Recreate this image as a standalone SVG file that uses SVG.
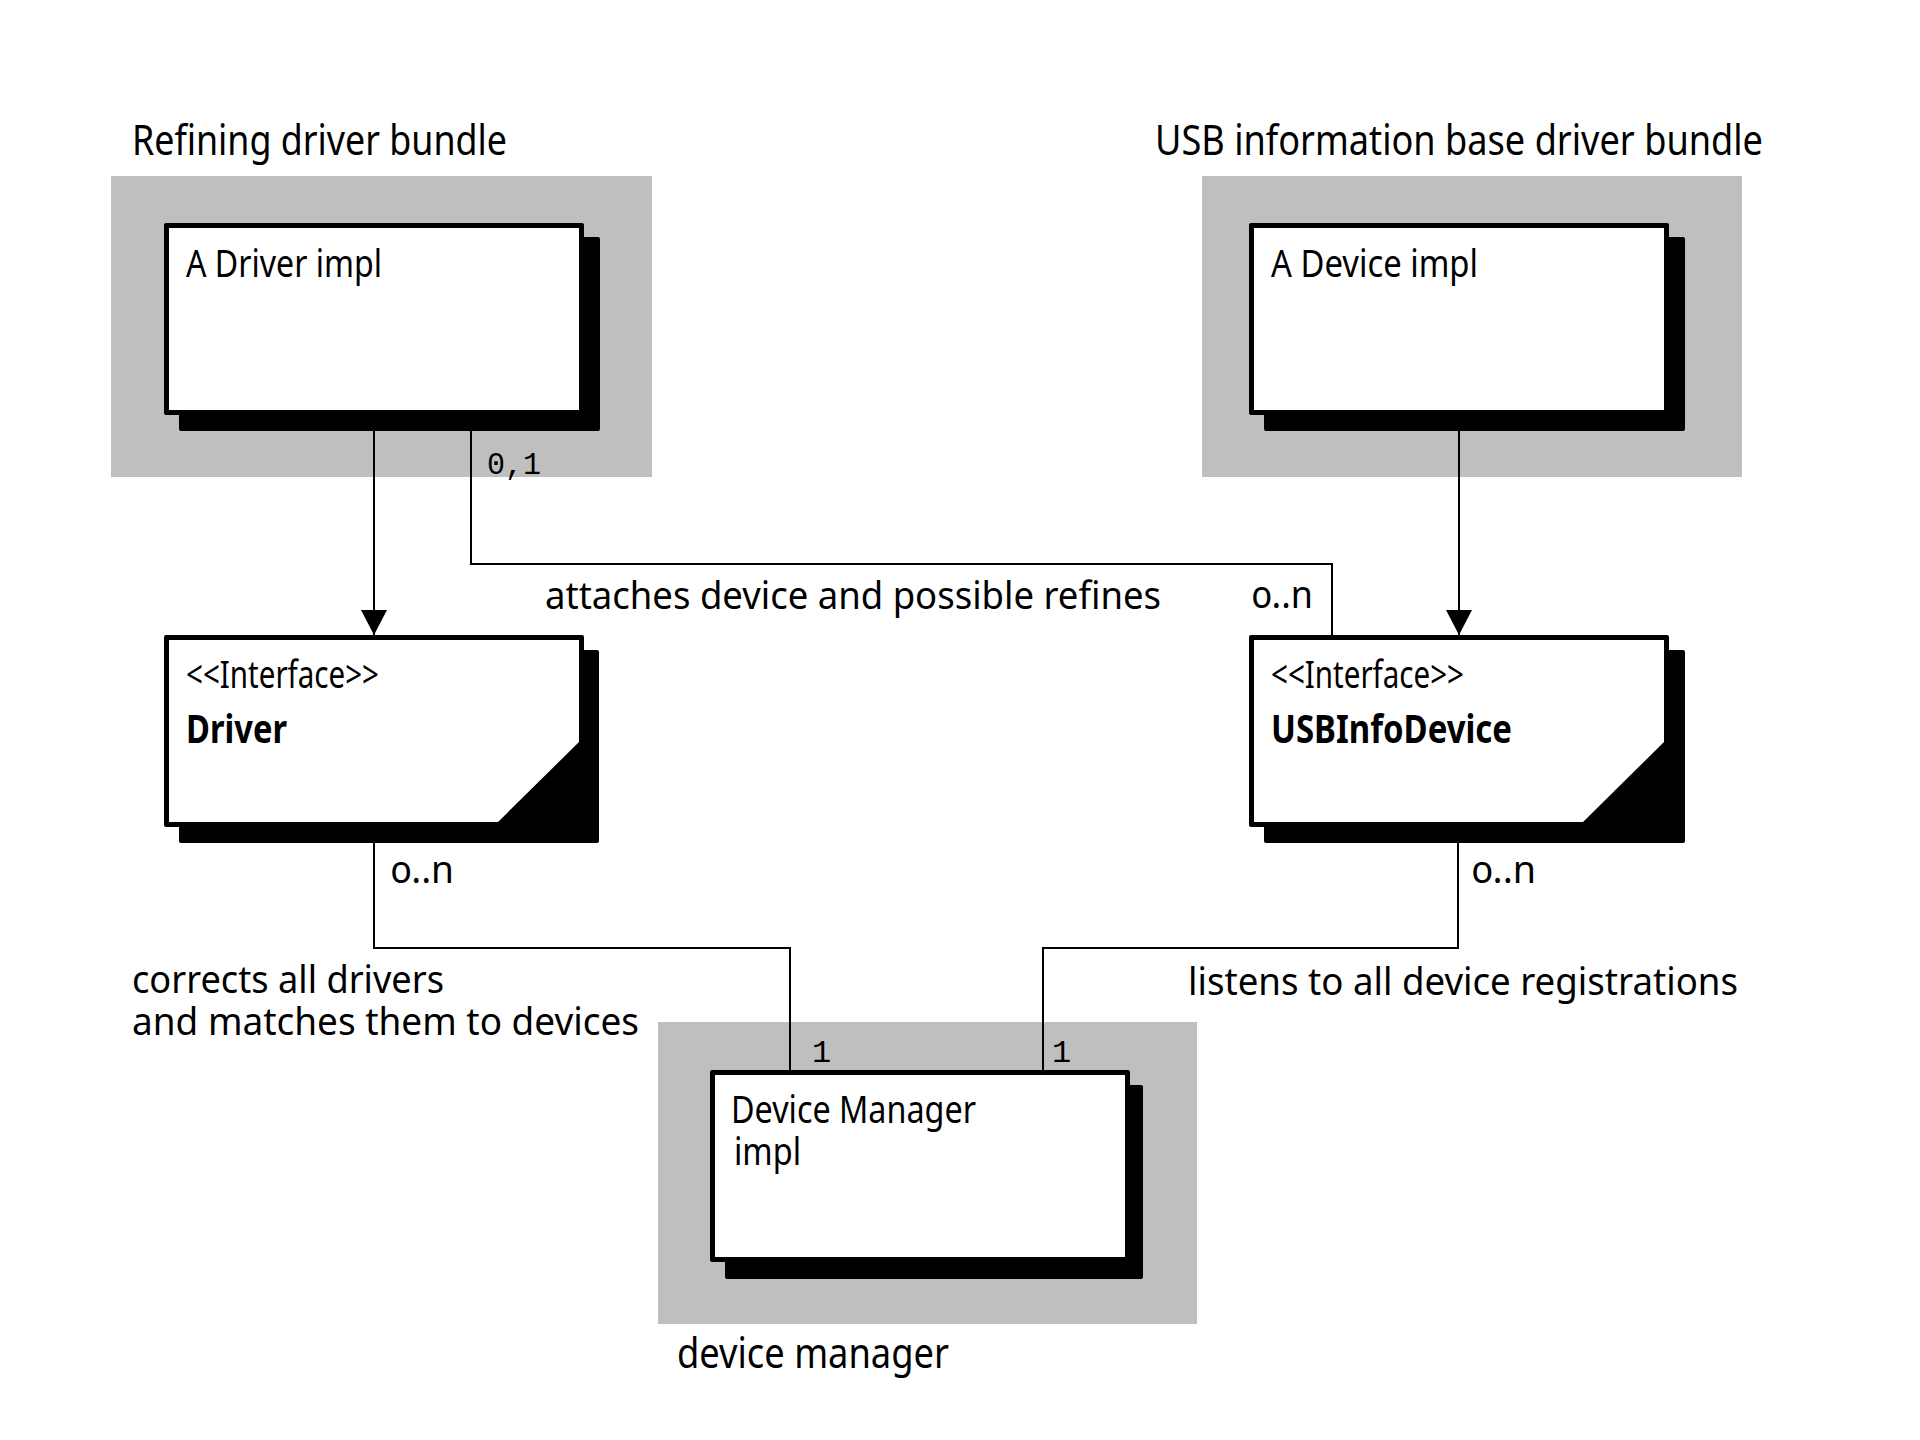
<svg xmlns="http://www.w3.org/2000/svg" width="1920" height="1440" viewBox="0 0 1920 1440">
<defs>
<style>
.pkg{fill:#bfbfbf}
.shadow{fill:#000}
.frame{fill:#000}
.inner{fill:#fff}
.t{font-family:"Noto Sans","Open Sans",sans-serif;fill:#000}
.title{font-size:42px}
.lbl{font-size:39px}
.bold{font-weight:bold}
.mul{font-size:38px;font-variant-numeric:oldstyle-nums}
.mono{font-family:"Liberation Mono","DejaVu Sans Mono",monospace;font-size:32px;fill:#000}
.conn{fill:none;stroke:#000;stroke-width:2}
</style>
<marker id="arrow" markerWidth="26" markerHeight="26" refX="24" refY="12.5" orient="auto" markerUnits="userSpaceOnUse" viewBox="0 0 24 25">
<path d="M0,0 L24,12.5 L0,25 Z" fill="#000"/>
</marker>
</defs>
<rect width="1920" height="1440" fill="#fff"/>

<g id="pkg-refining">
<rect class="pkg" x="111" y="176" width="541" height="301"/>
<text class="t title" x="132" y="155" textLength="375" lengthAdjust="spacingAndGlyphs">Refining driver bundle</text>
</g>
<g id="pkg-usb">
<rect class="pkg" x="1202" y="176" width="540" height="301"/>
<text class="t title" x="1155" y="155" textLength="608" lengthAdjust="spacingAndGlyphs">USB information base driver bundle</text>
</g>
<g id="pkg-devmgr">
<rect class="pkg" x="658" y="1022" width="539" height="302"/>
<text class="t title" x="677" y="1368" textLength="272" lengthAdjust="spacingAndGlyphs">device manager</text>
</g>

<g id="node-driver-impl">
<rect class="shadow" x="179" y="237" width="421" height="194" rx="2"/>
<rect class="frame" x="164" y="223" width="420" height="192" rx="2"/>
<rect class="inner" x="169" y="228" width="410" height="182"/>
<text class="t lbl" x="186" y="277" textLength="196" lengthAdjust="spacingAndGlyphs">A Driver impl</text>
</g>

<g id="node-device-impl">
<rect class="shadow" x="1264" y="237" width="421" height="194" rx="2"/>
<rect class="frame" x="1249" y="223" width="420" height="192" rx="2"/>
<rect class="inner" x="1254" y="228" width="410" height="182"/>
<text class="t lbl" x="1271" y="277" textLength="207" lengthAdjust="spacingAndGlyphs">A Device impl</text>
</g>

<g id="node-driver">
<rect class="shadow" x="179" y="650" width="420" height="193" rx="2"/>
<rect class="frame" x="164" y="635" width="420" height="192" rx="2"/>
<polygon class="inner" points="169,640 579,640 579,742 498,822 169,822"/>
<text class="t lbl" x="186" y="688" textLength="193" lengthAdjust="spacingAndGlyphs">&lt;&lt;Interface&gt;&gt;</text>
<text class="t lbl bold" x="186" y="743" textLength="101" lengthAdjust="spacingAndGlyphs">Driver</text>
</g>

<g id="node-usbinfodevice">
<rect class="shadow" x="1264" y="650" width="421" height="193" rx="2"/>
<rect class="frame" x="1249" y="635" width="420" height="192" rx="2"/>
<polygon class="inner" points="1254,640 1664,640 1664,742 1583,822 1254,822"/>
<text class="t lbl" x="1271" y="688" textLength="193" lengthAdjust="spacingAndGlyphs">&lt;&lt;Interface&gt;&gt;</text>
<text class="t lbl bold" x="1271" y="743" textLength="241" lengthAdjust="spacingAndGlyphs">USBInfoDevice</text>
</g>

<g id="node-device-manager">
<rect class="shadow" x="725" y="1085" width="418" height="194" rx="2"/>
<rect class="frame" x="710" y="1070" width="420" height="192" rx="2"/>
<rect class="inner" x="715" y="1075" width="410" height="182"/>
<text class="t lbl" x="731" y="1123" textLength="245" lengthAdjust="spacingAndGlyphs">Device Manager</text>
<text class="t lbl" x="734" y="1165" textLength="67" lengthAdjust="spacingAndGlyphs">impl</text>
</g>

<g id="connectors">
<path class="conn" d="M374,431 V635" marker-end="url(#arrow)"/>
<path class="conn" d="M1459,431 V635" marker-end="url(#arrow)"/>
<path class="conn" d="M471,431 V564 H1332 V635"/>
<path class="conn" d="M374,843 V948 H790 V1070"/>
<path class="conn" d="M1458,843 V948 H1043 V1070"/>
<text class="mono" x="487" y="474" textLength="54" lengthAdjust="spacingAndGlyphs">0,1</text>
<text class="t mul" x="1252" y="608" textLength="61" lengthAdjust="spacingAndGlyphs">0..n</text>
<text class="t lbl" x="545" y="609" textLength="616" lengthAdjust="spacingAndGlyphs">attaches device and possible refines</text>
<text class="t mul" x="391" y="883" textLength="63" lengthAdjust="spacingAndGlyphs">0..n</text>
<text class="t mul" x="1472" y="883" textLength="64" lengthAdjust="spacingAndGlyphs">0..n</text>
<text class="t lbl" x="132" y="993" textLength="312" lengthAdjust="spacingAndGlyphs">corrects all drivers</text>
<text class="t lbl" x="132" y="1035" textLength="507" lengthAdjust="spacingAndGlyphs">and matches them to devices</text>
<text class="t lbl" x="1188" y="995" textLength="550" lengthAdjust="spacingAndGlyphs">listens to all device registrations</text>
<text class="mono" x="812" y="1062">1</text>
<text class="mono" x="1052" y="1062">1</text>
</g>
</svg>
